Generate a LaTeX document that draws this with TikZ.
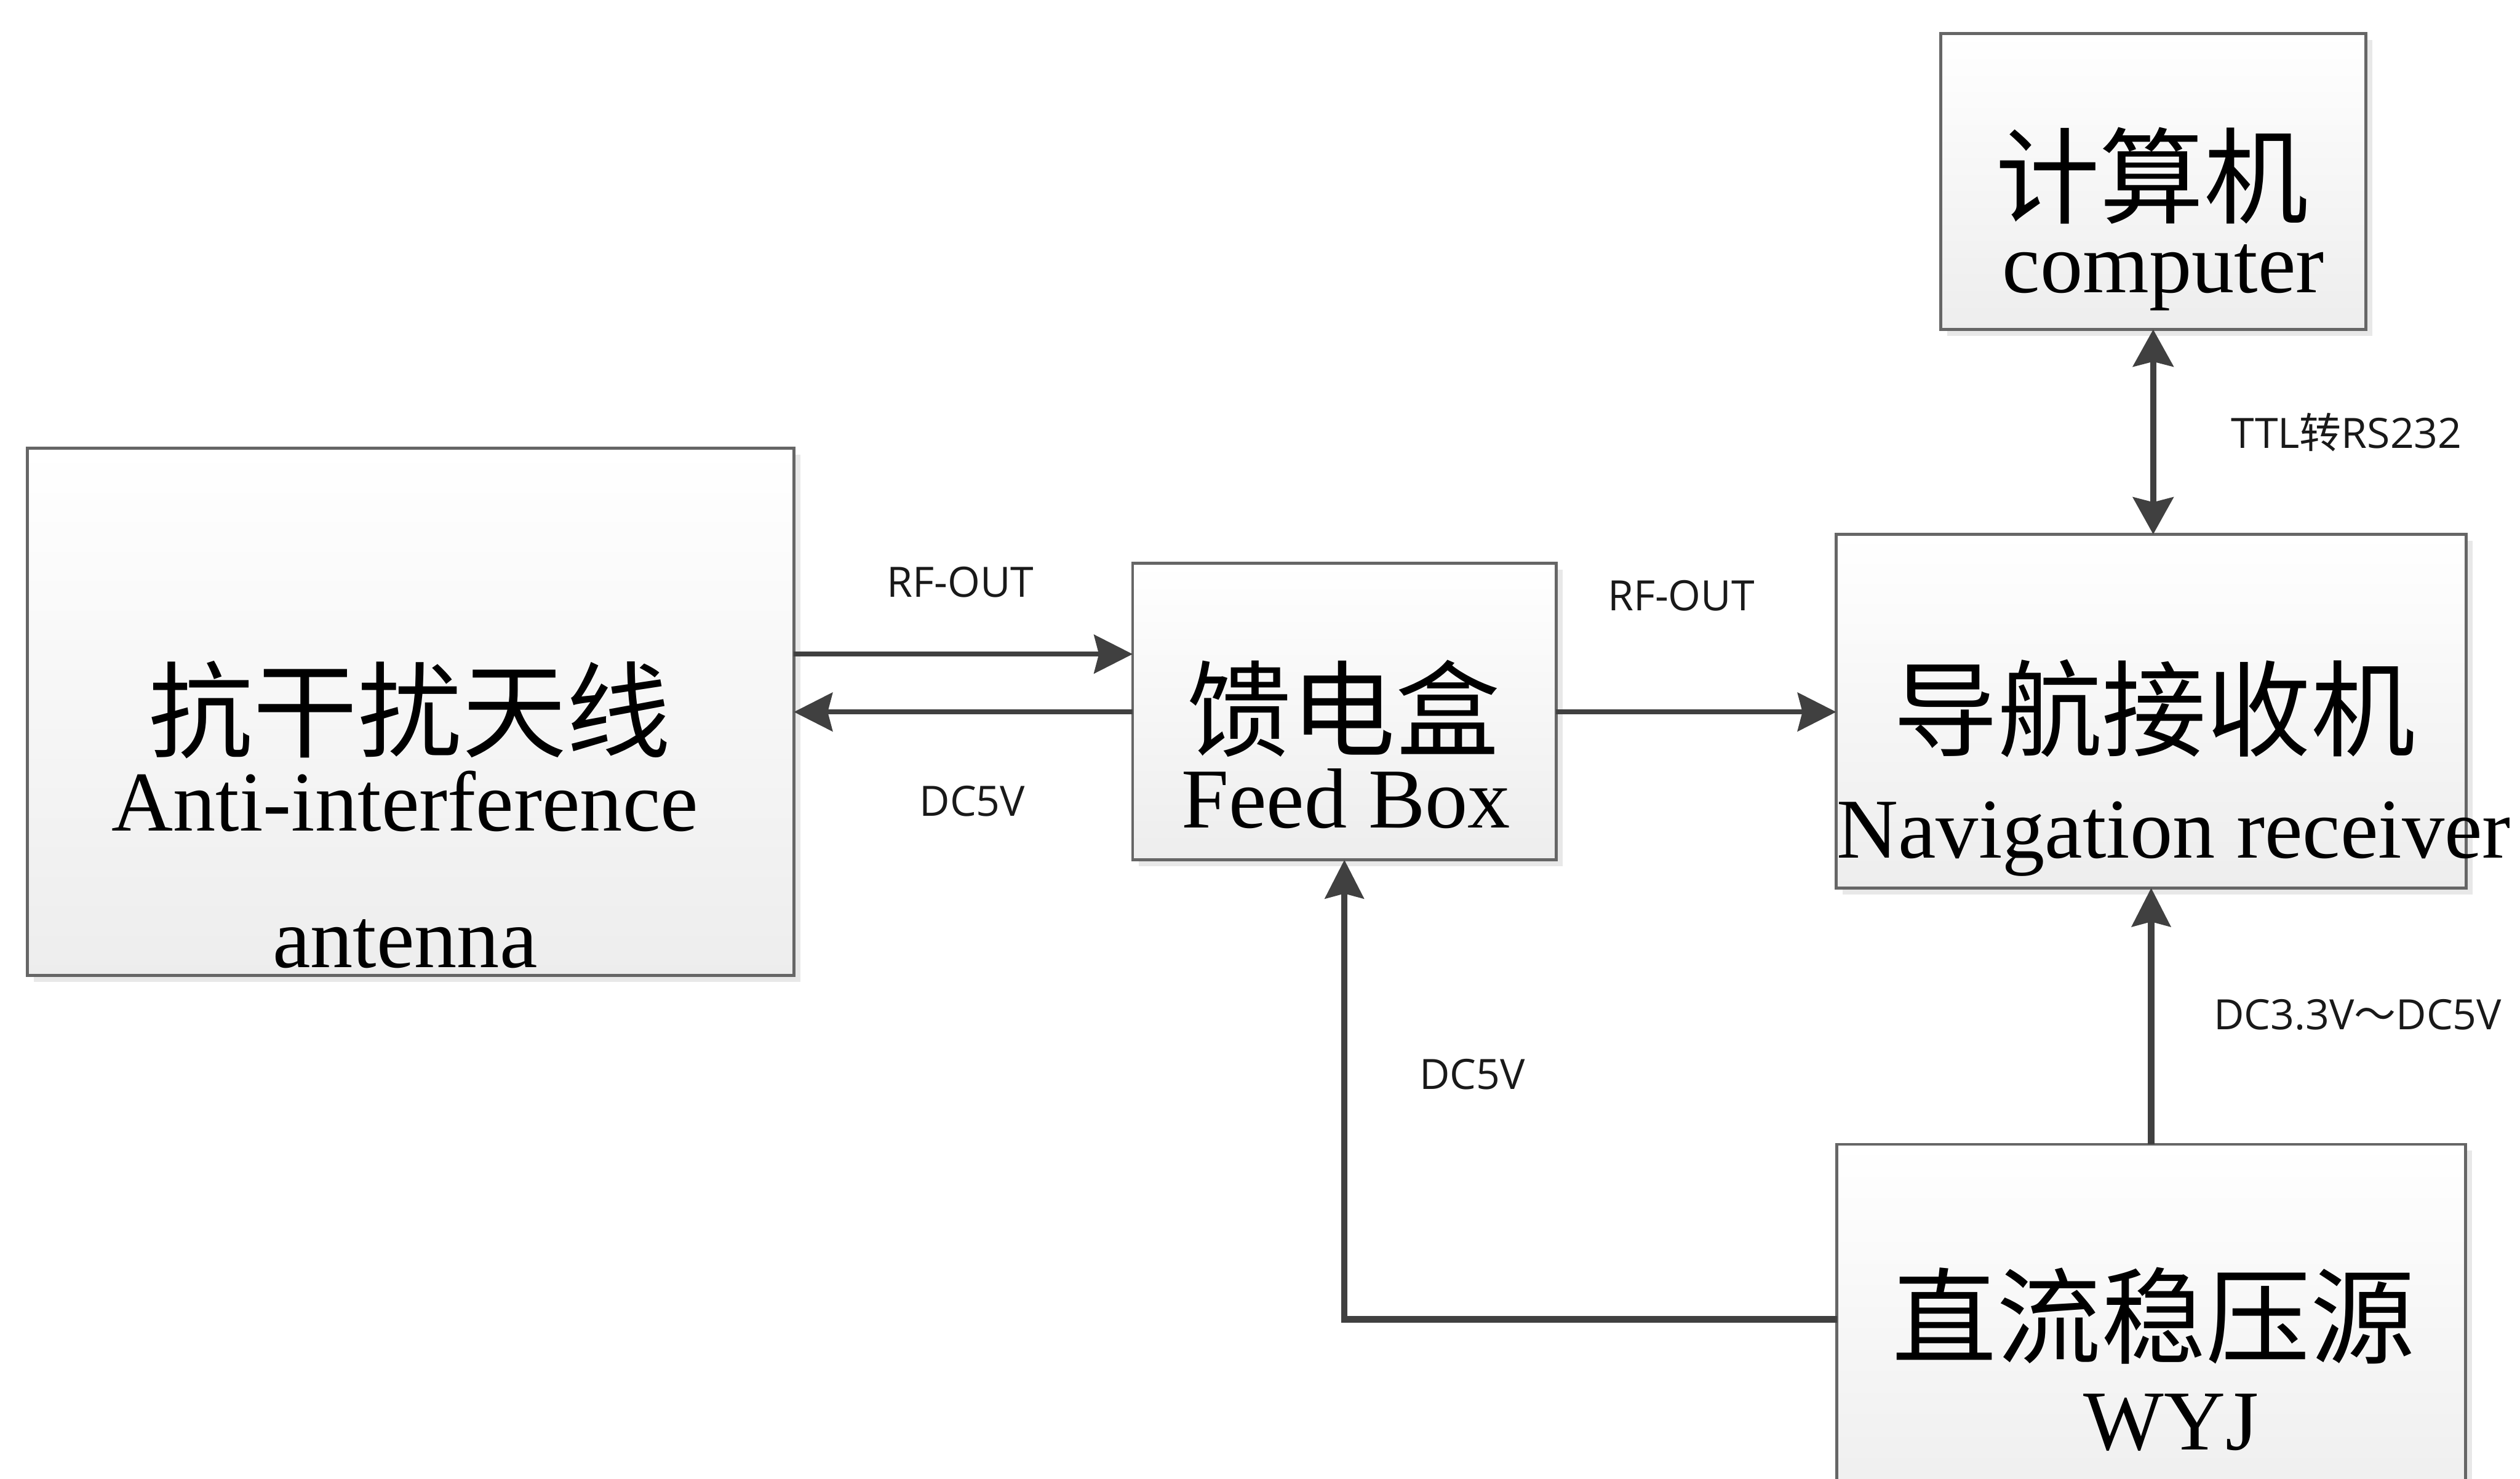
\documentclass[tikz,border=0pt]{standalone}
\usepackage{fontspec}
\setmainfont{Liberation Serif}
\newfontfamily\cjk{Noto Sans CJK SC}
\newfontfamily\lab{Open Sans}
\usetikzlibrary{arrows.meta,shadows}

\begin{document}
\begin{tikzpicture}[x=1pt,y=-1pt,
  box/.style={draw=black!60, line width=1.8pt, top color=white, bottom color=black!7,
    inner sep=0pt, outer sep=0pt,
    drop shadow={shadow xshift=4pt, shadow yshift=-4pt, fill=black!15, opacity=0.6}},
  cjktext/.style={font=\cjk\fontsize{65}{70}\selectfont, inner sep=0pt, anchor=center},
  entext/.style={font=\fontsize{53}{60}\selectfont, inner sep=0pt, anchor=base},
  lbl/.style={font=\lab\fontsize{26}{30}\selectfont, text=black!90, inner sep=0pt, anchor=base},
  conn/.style={draw=black!75, line width=4pt},
  rfline/.style={draw=black!75, line width=3pt},
  arrowend/.style={-{Stealth[length=24pt,width=24pt,inset=3pt]}},
  arrowboth/.style={{Stealth[length=23pt,width=25pt,inset=3pt]}-{Stealth[length=23pt,width=25pt,inset=3pt]}},
]
\fill[white] (0,0) rectangle (1568,920);
\clip (0,0) rectangle (1568,920);

% boxes
\node[box, minimum width=477pt, minimum height=328pt] (ant) at (255.5,443) {};
\node[box, minimum width=263.5pt, minimum height=184.5pt] (feed) at (836.5,442.75) {};
\node[box, minimum width=392pt, minimum height=220pt] (nav) at (1338.5,442.5) {};
\node[box, minimum width=264.5pt, minimum height=184pt] (comp) at (1339.75,113) {};
\node[box, minimum width=391pt, minimum height=240pt] (pwr) at (1338.5,832) {};

% box texts
\node[cjktext] (antzh) at (255,441.5) {抗干扰天线};
\node[entext] (anten1) at (252,517) {Anti-interference};
\node[entext] (anten2) at (252,602) {antenna};
\node[cjktext] (feedzh) at (836,441) {馈电盒};
\node[entext] (feeden) at (837.5,515) {Feed Box};
\node[cjktext] (navzh) at (1340.5,441) {导航接收机};
\node[entext] (naven) at (1352.5,534) {Navigation receiver};
\node[cjktext] (compzh) at (1339,109.5) {计算机};
\node[entext] (compen) at (1346,182) {computer};
\node[cjktext] (pwrzh) at (1340,818.5) {直流稳压源};
\node[entext] (pwren) at (1351,902) {WYJ};

% connector labels
\node[lbl] (l1) at (597.5,371.5) {RF-OUT};
\node[lbl] (l2) at (605,507.7) {DC5V};
\node[lbl] (l3) at (1046,380) {RF-OUT};
\node[lbl] (l4) at (1460,279) {TTL{\cjk 转}RS232};
\node[lbl] (l5) at (1467,640.5) {DC3.3V{\cjk ～}DC5V};
\node[lbl] (l6) at (916,677.6) {DC5V};

% connectors
\coordinate (ya) at (0,407);
\coordinate (yb) at (0,443);
\coordinate (yc) at (0,821);
\draw[rfline, arrowend] (ant.east |- ya) -- (feed.west |- ya);
\draw[rfline, arrowend] (feed.west |- yb) -- (ant.east |- yb);
\draw[rfline, arrowend] (feed.east |- yb) -- (nav.west |- yb);
\draw[conn, arrowboth] (comp.south) -- (comp.south |- nav.north);
\draw[conn, arrowend] (pwr.north) -- (nav.south);
\draw[conn, arrowend] (pwr.west |- yc) -| (feed.south);
\end{tikzpicture}
\end{document}
